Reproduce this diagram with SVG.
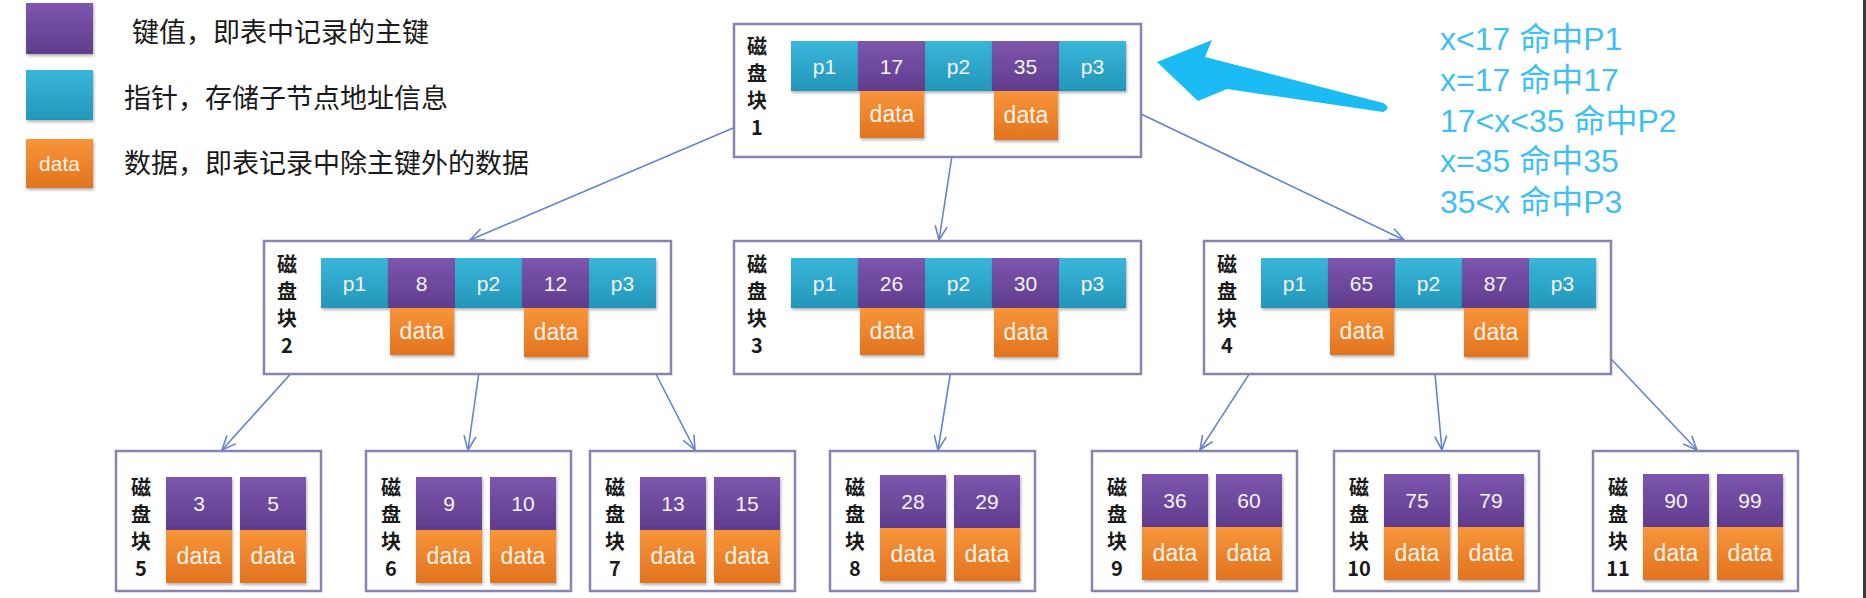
<svg xmlns="http://www.w3.org/2000/svg" width="1866" height="598" viewBox="0 0 1866 598">
<defs>
<linearGradient id="gb" x1="0" y1="0" x2="0" y2="1"><stop offset="0" stop-color="#39b6da"/><stop offset="1" stop-color="#2496b9"/></linearGradient>
<linearGradient id="gp" x1="0" y1="0" x2="0" y2="1"><stop offset="0" stop-color="#7d56ae"/><stop offset="1" stop-color="#603c8c"/></linearGradient>
<linearGradient id="go" x1="0" y1="0" x2="0" y2="1"><stop offset="0" stop-color="#f8953a"/><stop offset="1" stop-color="#e2731f"/></linearGradient>
<filter id="sh" x="-10%" y="-10%" width="130%" height="140%"><feDropShadow dx="1" dy="2" stdDeviation="1.5" flood-color="#000" flood-opacity="0.3"/></filter>
<marker id="arr" viewBox="-16 -10 20 20" refX="0" refY="0" markerWidth="20" markerHeight="20" markerUnits="userSpaceOnUse" orient="auto">
<path d="M-14,-6 L0,0 L-14,6" fill="none" stroke="#6585c9" stroke-width="1.6"/>
</marker>
</defs>
<style>
.box{fill:#fff;stroke:#8684b5;stroke-width:2.5}
.b{fill:url(#gb);filter:url(#sh)}
.p{fill:url(#gp);filter:url(#sh)}
.o{fill:url(#go);filter:url(#sh)}
.t{font-family:"Liberation Sans","Noto Sans",sans-serif;font-size:21px;fill:#f4f4f4;text-anchor:middle}
.d{font-family:"Liberation Sans","Noto Sans",sans-serif;font-size:23px;fill:#fbf3e8;text-anchor:middle}
.lbl{font-family:"Noto Sans CJK SC",sans-serif;font-size:20px;font-weight:bold;fill:#1a1a1a;text-anchor:middle}
.leg{font-family:"Noto Sans CJK SC",sans-serif;font-size:27px;fill:#1a1a1a}
.q{font-family:"Liberation Sans","Noto Sans CJK SC",sans-serif;font-size:32px;fill:#41c0f0}
.con{stroke:#6585c9;stroke-width:1.6;fill:none;marker-end:url(#arr)}
</style>
<rect width="1866" height="598" fill="#fff"/>
<rect x="1863" y="0" width="3" height="598" fill="#3a3a3a"/>

<g id="legend">
<rect class="p" x="26" y="3" width="67" height="51"/>
<rect class="b" x="26" y="70" width="67" height="50"/>
<rect class="o" x="26" y="139" width="67" height="49"/>
<text class="d" x="59.5" y="171" style="font-size:21px">data</text>
<text class="leg" x="132" y="42">键值，即表中记录的主键</text>
<text class="leg" x="124" y="108">指针，存储子节点地址信息</text>
<text class="leg" x="124" y="173">数据，即表记录中除主键外的数据</text>
</g>

<g id="query">
<path d="M1157,62 L1212,40 L1205,57 L1383,103 Q1392,107.5 1383,112 L1227,89 L1198,101 Z" fill="#1bbcf3"/>
<text class="q" x="1440" y="50">x&lt;17 命中P1</text>
<text class="q" x="1440" y="91">x=17 命中17</text>
<text class="q" x="1440" y="132">17&lt;x&lt;35 命中P2</text>
<text class="q" x="1440" y="172">x=35 命中35</text>
<text class="q" x="1440" y="213">35&lt;x 命中P3</text>
</g>

<g id="connectors">
<line class="con" x1="820" y1="91" x2="470" y2="240"/>
<line class="con" x1="962" y1="91" x2="939" y2="240"/>
<line class="con" x1="1093" y1="91" x2="1404" y2="240"/>
<line class="con" x1="350" y1="308" x2="222" y2="450"/>
<line class="con" x1="488" y1="308" x2="468" y2="450"/>
<line class="con" x1="622" y1="308" x2="695" y2="450"/>
<line class="con" x1="961" y1="308" x2="938" y2="450"/>
<line class="con" x1="1292" y1="308" x2="1200" y2="450"/>
<line class="con" x1="1429" y1="308" x2="1442" y2="450"/>
<line class="con" x1="1563" y1="308" x2="1697" y2="450"/>
</g>

<g id="node1">
<rect class="box" x="734" y="24" width="407" height="133"/>
<text class="lbl" x="757" y="54">磁</text><text class="lbl" x="757" y="81">盘</text><text class="lbl" x="757" y="108">块</text><text class="lbl" x="757" y="135">1</text>
<rect class="b" x="791" y="41" width="67" height="50"/><rect class="p" x="858" y="41" width="67" height="50"/><rect class="b" x="925" y="41" width="67" height="50"/><rect class="p" x="992" y="41" width="67" height="50"/><rect class="b" x="1059" y="41" width="67" height="50"/>
<rect class="o" x="860" y="91" width="64" height="47"/><rect class="o" x="994" y="91" width="64" height="49"/>
<text class="t" x="824.5" y="73.5">p1</text><text class="t" x="891.5" y="73.5">17</text><text class="t" x="958.5" y="73.5">p2</text><text class="t" x="1025.5" y="73.5">35</text><text class="t" x="1092.5" y="73.5">p3</text>
<text class="d" x="892" y="122">data</text><text class="d" x="1026" y="123">data</text>
</g>

<g id="node2">
<rect class="box" x="264" y="241" width="407" height="133"/>
<text class="lbl" x="287" y="272">磁</text><text class="lbl" x="287" y="299">盘</text><text class="lbl" x="287" y="326">块</text><text class="lbl" x="287" y="353">2</text>
<rect class="b" x="321" y="258" width="67" height="50"/><rect class="p" x="388" y="258" width="67" height="50"/><rect class="b" x="455" y="258" width="67" height="50"/><rect class="p" x="522" y="258" width="67" height="50"/><rect class="b" x="589" y="258" width="67" height="50"/>
<rect class="o" x="390" y="308" width="64" height="47"/><rect class="o" x="524" y="308" width="64" height="49"/>
<text class="t" x="354.5" y="290.5">p1</text><text class="t" x="421.5" y="290.5">8</text><text class="t" x="488.5" y="290.5">p2</text><text class="t" x="555.5" y="290.5">12</text><text class="t" x="622.5" y="290.5">p3</text>
<text class="d" x="422" y="339">data</text><text class="d" x="556" y="340">data</text>
</g>

<g id="node3">
<rect class="box" x="734" y="241" width="407" height="133"/>
<text class="lbl" x="757" y="272">磁</text><text class="lbl" x="757" y="299">盘</text><text class="lbl" x="757" y="326">块</text><text class="lbl" x="757" y="353">3</text>
<rect class="b" x="791" y="258" width="67" height="50"/><rect class="p" x="858" y="258" width="67" height="50"/><rect class="b" x="925" y="258" width="67" height="50"/><rect class="p" x="992" y="258" width="67" height="50"/><rect class="b" x="1059" y="258" width="67" height="50"/>
<rect class="o" x="860" y="308" width="64" height="47"/><rect class="o" x="994" y="308" width="64" height="49"/>
<text class="t" x="824.5" y="290.5">p1</text><text class="t" x="891.5" y="290.5">26</text><text class="t" x="958.5" y="290.5">p2</text><text class="t" x="1025.5" y="290.5">30</text><text class="t" x="1092.5" y="290.5">p3</text>
<text class="d" x="892" y="339">data</text><text class="d" x="1026" y="340">data</text>
</g>

<g id="node4">
<rect class="box" x="1204" y="241" width="407" height="133"/>
<text class="lbl" x="1227" y="272">磁</text><text class="lbl" x="1227" y="299">盘</text><text class="lbl" x="1227" y="326">块</text><text class="lbl" x="1227" y="353">4</text>
<rect class="b" x="1261" y="258" width="67" height="50"/><rect class="p" x="1328" y="258" width="67" height="50"/><rect class="b" x="1395" y="258" width="67" height="50"/><rect class="p" x="1462" y="258" width="67" height="50"/><rect class="b" x="1529" y="258" width="67" height="50"/>
<rect class="o" x="1330" y="308" width="64" height="47"/><rect class="o" x="1464" y="308" width="64" height="49"/>
<text class="t" x="1294.5" y="290.5">p1</text><text class="t" x="1361.5" y="290.5">65</text><text class="t" x="1428.5" y="290.5">p2</text><text class="t" x="1495.5" y="290.5">87</text><text class="t" x="1562.5" y="290.5">p3</text>
<text class="d" x="1362" y="339">data</text><text class="d" x="1496" y="340">data</text>
</g>

<g id="node5">
<rect class="box" x="116" y="451" width="205" height="140"/>
<text class="lbl" x="141" y="495">磁</text><text class="lbl" x="141" y="522">盘</text><text class="lbl" x="141" y="549">块</text><text class="lbl" x="141" y="576">5</text>
<rect class="p" x="166" y="477" width="66" height="53"/><rect class="p" x="240" y="477" width="66" height="53"/>
<rect class="o" x="166" y="530" width="66" height="53"/><rect class="o" x="240" y="530" width="66" height="53"/>
<text class="t" x="199" y="511">3</text><text class="t" x="273" y="511">5</text>
<text class="d" x="199" y="564">data</text><text class="d" x="273" y="564">data</text>
</g>

<g id="node6">
<rect class="box" x="366" y="451" width="205" height="140"/>
<text class="lbl" x="391" y="495">磁</text><text class="lbl" x="391" y="522">盘</text><text class="lbl" x="391" y="549">块</text><text class="lbl" x="391" y="576">6</text>
<rect class="p" x="416" y="477" width="66" height="53"/><rect class="p" x="490" y="477" width="66" height="53"/>
<rect class="o" x="416" y="530" width="66" height="53"/><rect class="o" x="490" y="530" width="66" height="53"/>
<text class="t" x="449" y="511">9</text><text class="t" x="523" y="511">10</text>
<text class="d" x="449" y="564">data</text><text class="d" x="523" y="564">data</text>
</g>

<g id="node7">
<rect class="box" x="590" y="451" width="205" height="140"/>
<text class="lbl" x="615" y="495">磁</text><text class="lbl" x="615" y="522">盘</text><text class="lbl" x="615" y="549">块</text><text class="lbl" x="615" y="576">7</text>
<rect class="p" x="640" y="477" width="66" height="53"/><rect class="p" x="714" y="477" width="66" height="53"/>
<rect class="o" x="640" y="530" width="66" height="53"/><rect class="o" x="714" y="530" width="66" height="53"/>
<text class="t" x="673" y="511">13</text><text class="t" x="747" y="511">15</text>
<text class="d" x="673" y="564">data</text><text class="d" x="747" y="564">data</text>
</g>

<g id="node8">
<rect class="box" x="830" y="451" width="205" height="140"/>
<text class="lbl" x="855" y="495">磁</text><text class="lbl" x="855" y="522">盘</text><text class="lbl" x="855" y="549">块</text><text class="lbl" x="855" y="576">8</text>
<rect class="p" x="880" y="475" width="66" height="53"/><rect class="p" x="954" y="475" width="66" height="53"/>
<rect class="o" x="880" y="528" width="66" height="53"/><rect class="o" x="954" y="528" width="66" height="53"/>
<text class="t" x="913" y="509">28</text><text class="t" x="987" y="509">29</text>
<text class="d" x="913" y="562">data</text><text class="d" x="987" y="562">data</text>
</g>

<g id="node9">
<rect class="box" x="1092" y="451" width="205" height="140"/>
<text class="lbl" x="1117" y="495">磁</text><text class="lbl" x="1117" y="522">盘</text><text class="lbl" x="1117" y="549">块</text><text class="lbl" x="1117" y="576">9</text>
<rect class="p" x="1142" y="474" width="66" height="53"/><rect class="p" x="1216" y="474" width="66" height="53"/>
<rect class="o" x="1142" y="527" width="66" height="53"/><rect class="o" x="1216" y="527" width="66" height="53"/>
<text class="t" x="1175" y="508">36</text><text class="t" x="1249" y="508">60</text>
<text class="d" x="1175" y="561">data</text><text class="d" x="1249" y="561">data</text>
</g>

<g id="node10">
<rect class="box" x="1334" y="451" width="205" height="140"/>
<text class="lbl" x="1359" y="495">磁</text><text class="lbl" x="1359" y="522">盘</text><text class="lbl" x="1359" y="549">块</text><text class="lbl" x="1359" y="576">10</text>
<rect class="p" x="1384" y="474" width="66" height="53"/><rect class="p" x="1458" y="474" width="66" height="53"/>
<rect class="o" x="1384" y="527" width="66" height="53"/><rect class="o" x="1458" y="527" width="66" height="53"/>
<text class="t" x="1417" y="508">75</text><text class="t" x="1491" y="508">79</text>
<text class="d" x="1417" y="561">data</text><text class="d" x="1491" y="561">data</text>
</g>

<g id="node11">
<rect class="box" x="1593" y="451" width="205" height="140"/>
<text class="lbl" x="1618" y="495">磁</text><text class="lbl" x="1618" y="522">盘</text><text class="lbl" x="1618" y="549">块</text><text class="lbl" x="1618" y="576">11</text>
<rect class="p" x="1643" y="474" width="66" height="53"/><rect class="p" x="1717" y="474" width="66" height="53"/>
<rect class="o" x="1643" y="527" width="66" height="53"/><rect class="o" x="1717" y="527" width="66" height="53"/>
<text class="t" x="1676" y="508">90</text><text class="t" x="1750" y="508">99</text>
<text class="d" x="1676" y="561">data</text><text class="d" x="1750" y="561">data</text>
</g>
</svg>
